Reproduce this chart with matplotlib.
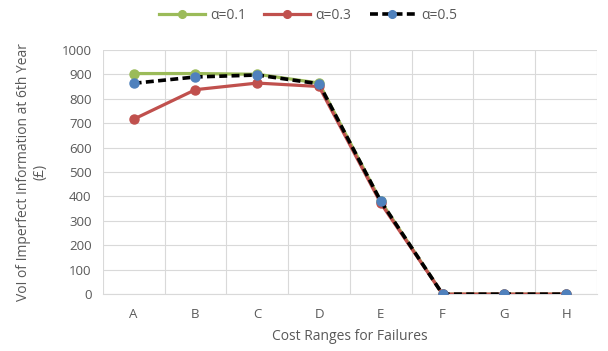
import numpy as np
import matplotlib.pyplot as plt

# Data
categories = ["A", "B", "C", "D", "E", "F", "G", "H"]
alpha_01 = [903, 903, 900, 864, 380, 0, 0, 0]
alpha_03 = [716, 837, 864, 850, 372, 0, 0, 0]
alpha_05 = [863, 889, 897, 861, 380, 0, 0, 0]

plt.rcParams['font.family'] = ['Open Sans', 'DejaVu Sans']
txt = '#595959'

fig = plt.figure(figsize=(6.08, 3.51), dpi=100)
ax = fig.add_axes([0.169, 0.162, 0.813, 0.696])

x = np.arange(len(categories))
ax.plot(x, alpha_01, color='#9BBB59', lw=2.3, marker='o', ms=6.5, label='α=0.1', zorder=3)
ax.plot(x, alpha_03, color='#C0504D', lw=2.3, marker='o', ms=6.5, label='α=0.3', zorder=4)
ax.plot(x, alpha_05, color='black', lw=2.6, ls=(0, (2.2, 1.2)), marker='o', ms=6.5,
        mfc='#4F81BD', mec='#4F81BD', label='α=0.5', zorder=5)

ax.set_xlim(-0.5, len(categories) - 0.5)
ax.set_ylim(0, 1000)
ax.set_yticks(np.arange(0, 1001, 100))
ax.set_xticks(x)
ax.set_xticklabels(categories)
ax.set_xticks(np.arange(-0.5, len(categories), 1), minor=True)
ax.grid(axis='y', color='#D9D9D9', lw=0.8)
ax.grid(axis='x', which='minor', color='#D9D9D9', lw=0.8)
ax.set_axisbelow(True)
for s in ['top', 'right', 'left']:
    ax.spines[s].set_visible(False)
ax.spines['bottom'].set_color('#D9D9D9')
ax.tick_params(axis='both', which='both', length=0, colors=txt, labelsize=9.5)
ax.tick_params(axis='y', pad=8)
ax.tick_params(axis='x', pad=10)

ax.set_xlabel('Cost Ranges for Failures', color=txt, fontsize=10, labelpad=6)
ax.set_ylabel('VoI of Imperfect Information at 6th Year\n(£)', color=txt, fontsize=10,
              linespacing=1.2, labelpad=10)

leg = ax.legend(loc='center', bbox_to_anchor=(0.415, 1.14), ncol=3, frameon=False,
                fontsize=10, handlelength=3.3, columnspacing=1.3, handletextpad=0.4,
                markerscale=0.85, borderpad=0)
for t in leg.get_texts():
    t.set_color(txt)

fig.savefig('out.png', dpi=100)
